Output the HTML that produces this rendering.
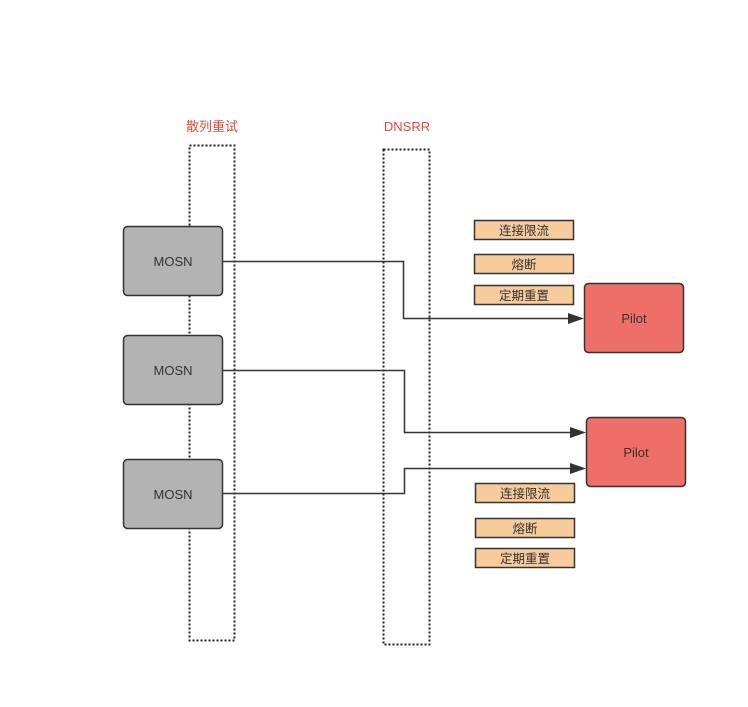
<!DOCTYPE html>
<html><head><meta charset="utf-8"><style>
body{margin:0;background:#fff;}
</style></head><body>
<svg width="748" height="707" viewBox="0 0 748 707" xmlns="http://www.w3.org/2000/svg" style="display:block;font-family:'Liberation Sans','Noto Sans CJK SC',sans-serif">
<rect x="0" y="0" width="748" height="707" fill="#fff"/>
<rect x="189.5" y="145.5" width="45" height="495" fill="none" stroke="#222" stroke-width="2" stroke-dasharray="2,2"/>
<rect x="383.5" y="149.5" width="46" height="495" fill="none" stroke="#222" stroke-width="2" stroke-dasharray="2,2"/>
<text x="212" y="131" fill="#e0483e" font-size="13" text-anchor="middle">散列重试</text>
<text x="407" y="131" fill="#e0483e" font-size="13" text-anchor="middle">DNSRR</text>
<g fill="none" stroke="#333" stroke-width="1.5">
<polyline points="223,261.5 403.5,261.5 403.5,318.5 572,318.5"/>
<polyline points="223,370.5 404.5,370.5 404.5,432.5 574,432.5"/>
<polyline points="223,493.5 404.5,493.5 404.5,468.5 574,468.5"/>
</g>
<g fill="#333">
<polygon points="584,318.5 568,313 568,324"/>
<polygon points="586,432.5 570,427 570,438"/>
<polygon points="586,468.5 570,463 570,474"/>
</g>
<g fill="#b3b3b3" stroke="#333" stroke-width="1.5">
<rect x="123.5" y="226.5" width="99" height="69" rx="4"/>
<rect x="123.5" y="335.5" width="99" height="69" rx="4"/>
<rect x="123.5" y="459.5" width="99" height="69" rx="4"/>
</g>
<g fill="#ee6f68" stroke="#333" stroke-width="1.5">
<rect x="584.5" y="283.5" width="99" height="69" rx="4"/>
<rect x="586.5" y="417.5" width="99" height="69" rx="4"/>
</g>
<g font-size="13" fill="#333" text-anchor="middle">
<text x="173" y="266">MOSN</text>
<text x="173" y="375">MOSN</text>
<text x="173" y="499">MOSN</text>
<text x="634" y="323">Pilot</text>
<text x="636" y="457">Pilot</text>
</g>
<g fill="#f7cb9b" stroke="#333" stroke-width="1.5">
<rect x="474.5" y="220.5" width="99" height="19"/>
<rect x="474.5" y="254.5" width="99" height="19"/>
<rect x="474.5" y="285.5" width="99" height="19"/>
<rect x="475.5" y="483.5" width="99" height="19"/>
<rect x="475.5" y="518.5" width="99" height="19"/>
<rect x="475.5" y="548.5" width="99" height="19"/>
</g>
<g font-size="12.5" fill="#333" text-anchor="middle">
<text x="524" y="235">连接限流</text>
<text x="524" y="269">熔断</text>
<text x="524" y="300">定期重置</text>
<text x="525" y="498">连接限流</text>
<text x="525" y="533">熔断</text>
<text x="525" y="563">定期重置</text>
</g>
</svg>
</body></html>
